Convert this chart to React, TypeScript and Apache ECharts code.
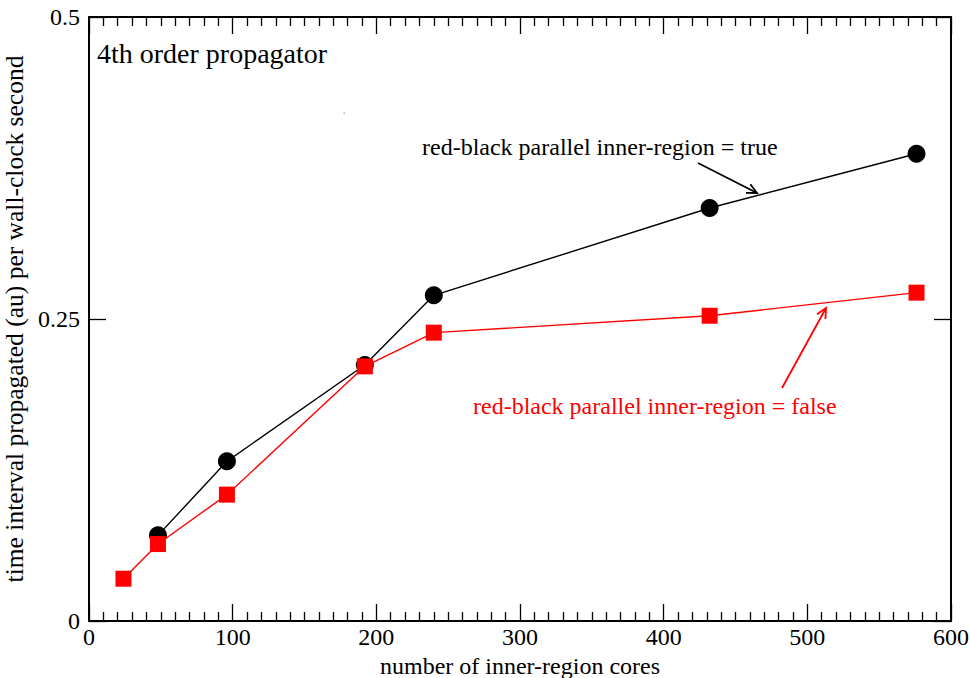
import React, { useEffect, useRef } from "react";
import * as echarts from "echarts";

const coresTrue = [48, 96, 192, 240, 432, 576];
const rateTrue = [0.0709, 0.1322, 0.2119, 0.2696, 0.3419, 0.3868];
const coresFalse = [24, 48, 96, 192, 240, 432, 576];
const rateFalse = [0.035, 0.0637, 0.1046, 0.2108, 0.2387, 0.2527, 0.2718];
const xTicks = [0, 100, 200, 300, 400, 500, 600];
const yTicks = [0, 0.25, 0.5];

const FONT = "Liberation Serif";

function arrow(x1: number, y1: number, x2: number, y2: number, color: string) {
  const ang = Math.atan2(y2 - y1, x2 - x1);
  const len = 11;
  const spread = (26 * Math.PI) / 180;
  const p1 = [x2 - len * Math.cos(ang - spread), y2 - len * Math.sin(ang - spread)];
  const p2 = [x2 - len * Math.cos(ang + spread), y2 - len * Math.sin(ang + spread)];
  return [
    { type: "line", shape: { x1, y1, x2, y2 }, style: { stroke: color, lineWidth: 1.8 }, z: 10 },
    {
      type: "polyline",
      shape: { points: [p1, [x2, y2], p2] },
      style: { stroke: color, lineWidth: 1.8, fill: null },
      z: 10,
    },
  ];
}

export default function App() {
  const ref = useRef<HTMLDivElement>(null);
  useEffect(() => {
    document.body.style.margin = "0";
    document.body.style.overflow = "hidden";
    document.documentElement.style.overflow = "hidden";
    const chart = echarts.init(ref.current!, null, { renderer: "svg" });
    const axisCommon = {
      type: "value" as const,
      axisLine: { show: true, onZero: false, lineStyle: { color: "#000", width: 2 } },
      splitLine: { show: false },
    };
    chart.setOption({
      animation: false,
      backgroundColor: "#fff",
      grid: { left: 89, right: 19, top: 17, bottom: 57, containLabel: false, outerBoundsMode: "none" },
      xAxis: [
        {
          ...axisCommon,
          position: "bottom",
          min: 0,
          max: 600,
          interval: 100,
          name: "number of inner-region cores",
          nameLocation: "middle",
          nameGap: 21,
          nameTextStyle: { fontFamily: FONT, fontSize: 24, color: "#000" },
          axisTick: { show: true, inside: true, length: 17, lineStyle: { color: "#000", width: 1.3 } },
          minorTick: { show: true, splitNumber: 10, length: 9, lineStyle: { color: "#000", width: 1.3 } },
          axisLabel: {
            fontFamily: FONT,
            fontSize: 24,
            color: "#000",
            margin: 4,
            formatter: (v: number) => (xTicks.includes(v) ? String(v) : ""),
          },
        },
        {
          ...axisCommon,
          position: "top",
          min: 0,
          max: 600,
          interval: 100,
          axisTick: { show: true, inside: true, length: 17, lineStyle: { color: "#000", width: 1.3 } },
          minorTick: { show: true, splitNumber: 10, length: 9, lineStyle: { color: "#000", width: 1.3 } },
          axisLabel: { show: false },
        },
      ],
      yAxis: [
        {
          ...axisCommon,
          position: "left",
          min: 0,
          max: 0.5,
          interval: 0.25,
          name: "time interval propagated (au) per wall-clock second",
          nameLocation: "middle",
          nameGap: 56,
          nameTextStyle: { fontFamily: FONT, fontSize: 25.5, color: "#000" },
          axisTick: { show: true, inside: true, length: 17, lineStyle: { color: "#000", width: 1.3 } },
          axisLabel: {
            fontFamily: FONT,
            fontSize: 24,
            color: "#000",
            margin: 9,
            formatter: (v: number) => (yTicks.includes(v) ? String(v) : ""),
          },
        },
        {
          ...axisCommon,
          position: "right",
          min: 0,
          max: 0.5,
          interval: 0.25,
          axisTick: { show: true, inside: true, length: 17, lineStyle: { color: "#000", width: 1.3 } },
          axisLabel: { show: false },
        },
      ],
      series: [
        {
          type: "line",
          name: "red-black parallel inner-region = true",
          data: coresTrue.map((c, i) => [c, rateTrue[i]]),
          symbol: "circle",
          symbolSize: 18,
          itemStyle: { color: "#000" },
          lineStyle: { color: "#000", width: 1.4 },
          z: 2,
        },
        {
          type: "line",
          name: "red-black parallel inner-region = false",
          data: coresFalse.map((c, i) => [c, rateFalse[i]]),
          symbol: "rect",
          symbolSize: 16,
          itemStyle: { color: "#ff0000" },
          lineStyle: { color: "#ff0000", width: 1.4 },
          z: 3,
        },
      ],
      graphic: [
        {
          type: "text",
          left: 97,
          top: 39,
          style: { text: "4th order propagator", fontFamily: FONT, fontSize: 28, fill: "#000" },
        },
        {
          type: "text",
          left: 422,
          top: 135,
          style: { text: "red-black parallel inner-region = true", fontFamily: FONT, fontSize: 24, fill: "#000" },
        },
        {
          type: "text",
          left: 473,
          top: 394,
          style: { text: "red-black parallel inner-region = false", fontFamily: FONT, fontSize: 24, fill: "#ff0000" },
        },
        { type: "rect", shape: { x: 343.5, y: 112.5, width: 1.2, height: 1.2 }, style: { fill: "#888" } },
        ...arrow(698, 163, 757, 193, "#000"),
        ...arrow(782, 388, 826, 308, "#ff0000"),
      ],
    });
    return () => chart.dispose();
  }, []);
  return <div ref={ref} style={{ width: 970, height: 678, overflow: "hidden" }} />;
}
